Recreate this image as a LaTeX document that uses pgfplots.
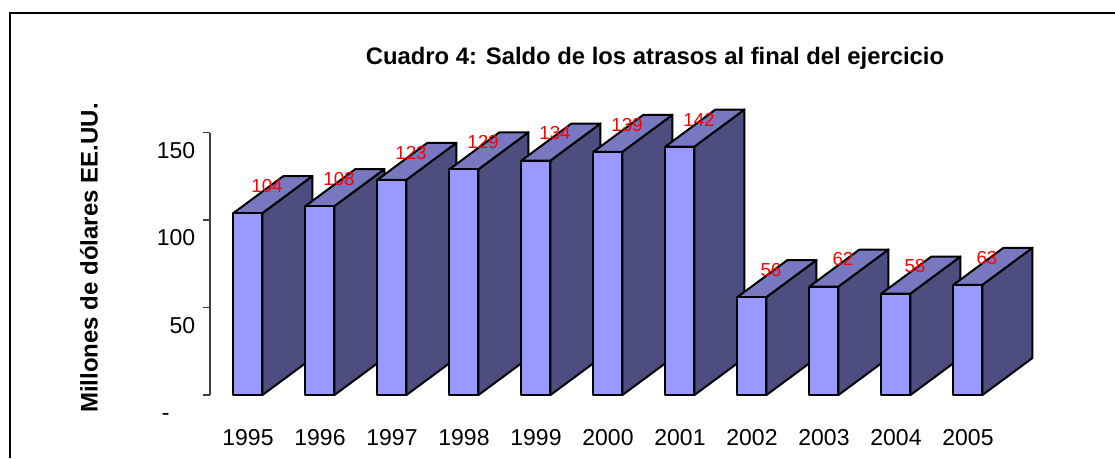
\documentclass[border=0pt]{standalone}
\usepackage{fontspec}
\setmainfont{Liberation Sans}
\usepackage{pgfplots}
\usepackage{pgfplotstable}
\pgfplotsset{compat=1.18}
\definecolor{frontcol}{RGB}{153,153,255}
\definecolor{sidecol}{RGB}{77,77,128}
\definecolor{topcol}{RGB}{120,120,192}
\pgfdeclareplotmark{nothing}{}
\pgfplotstableread{
x y
0 104
1 108
2 123
3 129
4 134
5 139
6 142
7 56
8 62
9 58
10 63
}\datatable
\begin{document}
\begin{tikzpicture}[x=0.6pt,y=0.6pt]
\useasboundingbox (0,0) rectangle (1115,458);
\fill[white] (0,0) rectangle (1115,458);
\draw[black,line width=1.1pt] (10,0) -- (10,445) -- (1116,445);
\node[font=\bfseries\fontsize{14.3pt}{16pt}\selectfont] at (655,400) {Cuadro 4: Saldo de los atrasos al final del ejercicio};
\node[font=\bfseries\fontsize{14.4pt}{16pt}\selectfont, rotate=90] at (89,200) {Millones de dólares EE.UU.};
\begin{axis}[
  anchor=origin, at={(148.8pt,37.8pt)},
  x=43.2pt, y=1.05pt,
  xmin=-0.528, xmax=11, ymin=0, ymax=150,
  clip=false,
  axis y line*=left, axis x line*=bottom,
  x axis line style={draw=none},
  y axis line style={draw=black!75, line width=0.7pt},
  xtick={0,...,10},
  xticklabels={1995,1996,1997,1998,1999,2000,2001,2002,2003,2004,2005},
  xtick style={draw=none},
  ytick={0,50,100,150},
  yticklabels={-\phantom{00},50,100,150},
  ytick style={draw=black!75, line width=0.7pt},
  tick align=outside, major tick length=4.2pt,
  ticklabel style={font=\fontsize{13.8pt}{15pt}\selectfont},
  yticklabel style={inner sep=0pt, anchor=east, xshift=-4.5pt, yshift=-10.8pt},
  xticklabel style={inner sep=0pt, anchor=north, yshift=-16pt},
]
\addplot[scatter, only marks, mark=nothing,
  visualization depends on={\thisrow{y} \as \rawy},
  scatter/@pre marker code/.code={%
    \pgfmathsetlengthmacro\hh{\rawy*1.05pt}%
    \pgfmathsetlengthmacro\hb{22.2pt-\rawy*1.05pt}%
    \filldraw[fill=sidecol, draw=black, line width=1.2pt, line join=round]
      (8.7pt,0pt) -- (38.7pt,22.2pt) -- (38.7pt,\hb) -- (8.7pt,-\hh) -- cycle;
    \filldraw[fill=topcol, draw=black, line width=1.2pt, line join=round]
      (-8.7pt,0pt) -- (8.7pt,0pt) -- (38.7pt,22.2pt) -- (21.3pt,22.2pt) -- cycle;
    \filldraw[fill=frontcol, draw=black, line width=1.2pt, line join=round]
      (-8.7pt,-\hh) rectangle (8.7pt,0pt);
  },
  scatter/@post marker code/.code={},
] table[x=x,y=y] {\datatable};
\addplot[only marks, mark=nothing,
  nodes near coords={\pgfmathprintnumber[assume math mode=true]{\pgfplotspointmeta}},
  nodes near coords style={font=\fontsize{11.3pt}{12pt}\selectfont, text=red, anchor=center, inner sep=0pt, xshift=11.4pt, yshift=16.2pt},
] table[x=x,y=y] {\datatable};
\end{axis}
\end{tikzpicture}
\end{document}
